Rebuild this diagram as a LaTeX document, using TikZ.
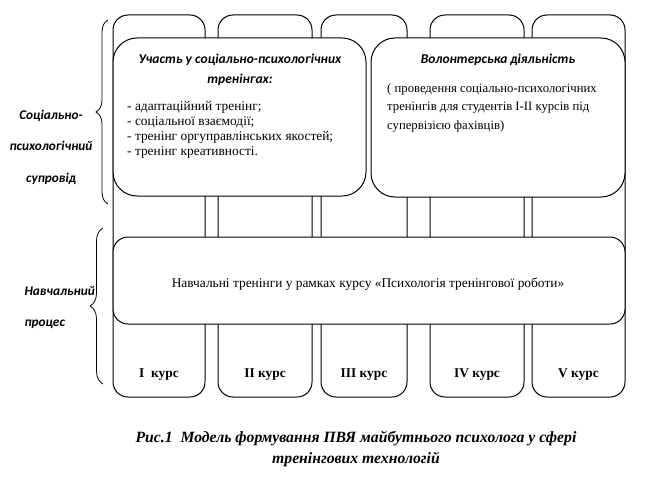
\documentclass[tikz,border=0pt]{standalone}
\usepackage{fontspec}
\setmainfont{Liberation Serif}
\newfontfamily\calibfont{Carlito}
\usetikzlibrary{positioning, decorations.pathreplacing}
\tikzset{
  course/.style={rectangle, rounded corners=15pt, draw=black, line width=1pt,
                 fill=white, inner sep=0pt, minimum width=#1, minimum height=382pt},
  panel/.style={rectangle, rounded corners=24pt, draw=black, line width=1pt,
                fill=white, inner sep=0pt},
  yeartxt/.style={font=\bfseries\fontsize{13.4}{15}\selectfont},
  headtxt/.style={font=\calibfont\bfseries\itshape\fontsize{13.5}{20}\selectfont, align=center},
  listtxt/.style={font=\fontsize{13.4}{15}\selectfont, align=left, anchor=west, inner sep=0pt},
  bodytxt/.style={font=\fontsize{13.4}{15}\selectfont},
  sidetxt/.style={font=\calibfont\bfseries\itshape\fontsize{13.3}{31.5}\selectfont},
  captxt/.style={font=\bfseries\itshape\fontsize{15.7}{21}\selectfont, align=center},
  sidebrace/.style={decorate, decoration={brace, amplitude=#1}, line width=0.8pt},
  sidebrace/.default=12pt,
}
\begin{document}
\begin{tikzpicture}[x=1pt, y=-1pt]
  \path[use as bounding box] (0,0) rectangle (666,487);
  %% course columns
  \foreach \n/\cx/\w/\txt in {1/159/92/{I\ \ курс}, 2/265/94/{II курс},
      3/364/86/{III курс}, 4/477/94/{IV курс}, 5/578.5/93/{V курс}} {
    \node[course=\w pt] (c\n) at (\cx,206) {};
    \node[yeartxt] (y\n) at (\cx,375) {\txt};
  }
  %% upper panels
  \node[panel, minimum width=253pt, minimum height=158pt] (part)   at (239.5,117) {};
  \node[panel, minimum width=254pt, minimum height=159pt] (volunt) at (498,117.5) {};
  \node[headtxt] (parthead) at (240,70) {Участь у соціально-психологічних\\тренінгах:};
  \node[listtxt] (partlist) at (127,129.5) {- адаптаційний тренінг;\\- соціальної взаємодії;\\- тренінг оргуправлінських якостей;\\- тренінг креативності.};
  \node[headtxt] (volhead) at (498,60) {Волонтерська діяльність};
  \node[listtxt, font=\fontsize{12.7}{18.5}\selectfont] (voltxt) at (387,107.5)
    {( проведення соціально-психологічних\\тренінгів для студентів I-II курсів під\\супервізією фахівців)};
  %% study panel
  \node[panel, rounded corners=15pt, minimum width=512pt, minimum height=87pt] (study) at (369,280.5) {};
  \node[bodytxt] (studytxt) at (368,284) {Навчальні тренінги у рамках курсу «Психологія тренінгової роботи»};
  %% side labels and braces
  \node[sidetxt, align=center] (support) at (51,147) {Соціально-\\психологічний\\супровід};
  \node[sidetxt, align=left, anchor=west] (process) at (21,307.5) {Навчальний\\процес};
  \coordinate (b1top) at (108,20);
  \coordinate (b1bot) at (108,204);
  \coordinate (b2top) at (103,228);
  \coordinate (b2bot) at (103,384);
  \draw[sidebrace] (b1bot) -- (b1top);
  \draw[sidebrace=13pt] (b2bot) -- (b2top);
  %% caption
  \node[captxt] (caption) at (356,449.5) {Рис.1\ \ Модель формування ПВЯ майбутнього психолога у сфері\\тренінгових технологій};
\end{tikzpicture}
\end{document}
